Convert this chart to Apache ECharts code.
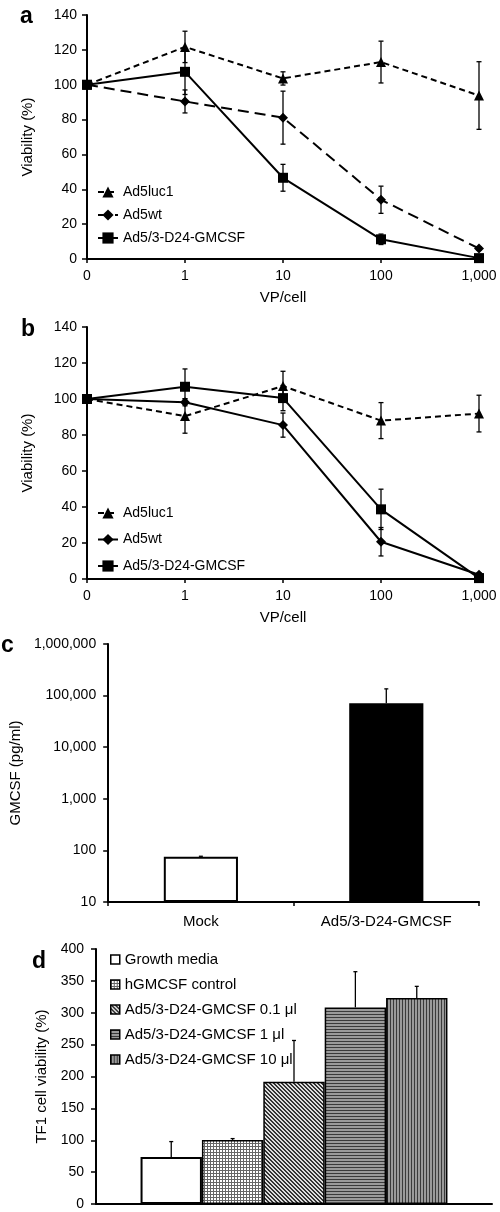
<!DOCTYPE html>
<html><head><meta charset="utf-8">
<script src="https://cdn.jsdelivr.net/npm/echarts@6/dist/echarts.min.js"></script>
<style>
html,body{margin:0;padding:0;background:#fff;}
.p{position:absolute;left:0;width:500px;}
</style></head>
<body>
<div id="pa" class="p" style="top:0;height:310px"></div>
<div id="pb" class="p" style="top:310px;height:320px"></div>
<div id="pc" class="p" style="top:630px;height:300px"></div>
<div id="pd" class="p" style="top:930px;height:282px"></div>
<script>
// ---------- data ----------
const doses = ['0', '1', '10', '100', '1,000'];
const lineNames = ['Ad5luc1', 'Ad5wt', 'Ad5/3-D24-GMCSF'];

const aLuc1 = [100, 121.7, 103.6, 113, 93.8];
const aLuc1Err = [0, 9, 3.8, 12, 19.4];
const aWt = [100, 90.4, 81.1, 34, 6];
const aWtErr = [0, 6.6, 15.2, 7.8, 1];
const aGm = [100, 107.4, 46.6, 11.3, 0.5];
const aGmErr = [0, 13, 7.7, 3, 0];

const bLuc1 = [100, 90.5, 107.2, 88, 91.9];
const bLuc1Err = [0, 9.5, 8.2, 10, 10.2];
const bWt = [100, 98.2, 85.5, 20.7, 2.4];
const bWtErr = [0, 2, 6.7, 7.9, 1];
const bGm = [100, 106.8, 100.5, 38.7, 0.5];
const bGmErr = [0, 9.9, 7, 11.2, 0];

const cGroups = ['Mock', 'Ad5/3-D24-GMCSF'];
const cValues = [75, 71300];
const cErrTop = [77, 135000];

const dNames = ['Growth media', 'hGMCSF control', 'Ad5/3-D24-GMCSF 0.1 \u03bcl', 'Ad5/3-D24-GMCSF 1 \u03bcl', 'Ad5/3-D24-GMCSF 10 \u03bcl'];
const dValues = [73.8, 100.5, 191.6, 308.4, 323];
const dErr = [24.1, 2.1, 64.9, 56, 18.4];

// ---------- helpers ----------
const FONT = "'Liberation Sans', Arial, Helvetica, sans-serif";
const BLACK = '#000';

function makePattern(kind) {
  const c = document.createElement('canvas');
  let w = 3, h = 3;
  if (kind === 'diag') { w = 4; h = 4; }
  c.width = w; c.height = h;
  const g = c.getContext('2d');
  if (kind === 'white') { g.fillStyle = '#fff'; g.fillRect(0, 0, w, h); }
  else if (kind === 'grid') {
    g.fillStyle = '#fff'; g.fillRect(0, 0, w, h);
    g.fillStyle = '#666'; g.fillRect(0, 0, w, 1); g.fillRect(0, 0, 1, h);
  } else if (kind === 'diag') {
    g.fillStyle = '#ddd'; g.fillRect(0, 0, w, h);
    g.fillStyle = '#333';
    for (let i = 0; i < 4; i++) { g.fillRect(i, i, 1, 1); g.fillRect((i + 1) % 4, i, 1, 1); }
  } else if (kind === 'hor') {
    g.fillStyle = '#9a9a9a'; g.fillRect(0, 0, w, h);
    g.fillStyle = '#3a3a3a'; g.fillRect(0, 0, w, 1);
  } else if (kind === 'ver') {
    g.fillStyle = '#9a9a9a'; g.fillRect(0, 0, w, h);
    g.fillStyle = '#3a3a3a'; g.fillRect(0, 0, 1, h);
  }
  return { image: c, repeat: 'repeat' };
}

function errRender(capW, offsetFn) {
  return function (params, api) {
    const x = api.value(0), lo = api.value(1), hi = api.value(2);
    if (!(hi > lo)) return null;
    const p1 = api.coord([x, lo]);
    const p2 = api.coord([x, hi]);
    const dx = offsetFn ? offsetFn(params, api) : 0;
    const X = p1[0] + dx;
    const st = { stroke: BLACK, lineWidth: 1.3 };
    const ch = [{ type: 'line', shape: { x1: X, y1: p1[1], x2: X, y2: p2[1] }, style: st },
                { type: 'line', shape: { x1: X - capW / 2, y1: p2[1], x2: X + capW / 2, y2: p2[1] }, style: st }];
    if (api.value(3) === 1) {
      ch.push({ type: 'line', shape: { x1: X - capW / 2, y1: p1[1], x2: X + capW / 2, y2: p1[1] }, style: st });
    }
    return { type: 'group', children: ch };
  };
}

function symErr(vals, errs) {
  return vals.map((v, i) => [i, v - errs[i], v + errs[i], 1]);
}

function axisCommon() {
  return {
    axisLine: { show: true, lineStyle: { color: BLACK, width: 2 } },
    axisTick: { show: true, lineStyle: { color: BLACK, width: 1.5 }, length: 5 },
    axisLabel: { color: BLACK, fontFamily: FONT, fontSize: 14 },
    nameTextStyle: { color: BLACK, fontFamily: FONT, fontSize: 15 },
    splitLine: { show: false }
  };
}

function letter(txt, x, y) {
  return { type: 'text', left: x, top: y, style: { text: txt, font: 'bold 23px ' + FONT, fill: BLACK } };
}

function linePanel(el, data, errs, styles, legendTop, legendGap, gridTop, gridH, lab) {
  const chart = echarts.init(document.getElementById(el), null, { renderer: 'canvas' });
  const symbols = ['triangle', 'diamond', 'rect'];
  const symSizes = [10, 10, 10];
  const series = [];
  for (let k = 0; k < 3; k++) {
    series.push({
      type: 'custom', name: 'err' + k, renderItem: errRender(5), encode: { x: 0, y: [1, 2] },
      data: symErr(data[k], errs[k]), z: 2, silent: true
    });
  }
  for (let k = 0; k < 3; k++) {
    series.push({
      type: 'line', name: lineNames[k], data: data[k], symbol: symbols[k], symbolSize: symSizes[k],
      lineStyle: { color: BLACK, width: 2, type: styles[k] }, itemStyle: { color: BLACK }, z: 3
    });
  }
  const xa = Object.assign(axisCommon(), {
    type: 'category', data: doses, boundaryGap: false, name: 'VP/cell', nameLocation: 'middle', nameGap: 31
  });
  xa.axisTick.length = 4;
  xa.axisLabel.margin = 10;
  const ya = Object.assign(axisCommon(), {
    type: 'value', min: 0, max: 140, interval: 20, name: 'Viability (%)', nameLocation: 'middle', nameGap: 52
  });
  ya.axisLabel.margin = 10;
  chart.setOption({
    animation: false,
    textStyle: { fontFamily: FONT },
    grid: { left: 87, width: 392, top: gridTop, height: gridH },
    xAxis: xa, yAxis: ya,
    legend: {
      data: lineNames, orient: 'vertical', left: 92, top: legendTop, itemGap: legendGap,
      itemWidth: 20, itemHeight: 14, textStyle: { color: BLACK, fontFamily: FONT, fontSize: 14 },
      selectedMode: false
    },
    graphic: [letter(lab[0], lab[1], lab[2])],
    series: series
  });
}

// ---------- panel a ----------
linePanel('pa', [aLuc1, aWt, aGm], [aLuc1Err, aWtErr, aGmErr], [[6, 4], [11, 6], 'solid'], 180, 9, 15, 247, ['a', 20, 5]);
// ---------- panel b ----------
linePanel('pb', [bLuc1, bWt, bGm], [bLuc1Err, bWtErr, bGmErr], [[6, 4], 'solid', 'solid'], 191, 12.5, 17, 254, ['b', 21, 8]);

// ---------- panel c ----------
(function () {
  const chart = echarts.init(document.getElementById('pc'));
  const fills = ['#fff', '#000'];
  const barData = cValues.map((v, i) => ({ value: v, itemStyle: { color: fills[i], borderColor: BLACK, borderWidth: 2 } }));
  const xa = Object.assign(axisCommon(), { type: 'category', data: cGroups, boundaryGap: true });
  xa.axisTick.length = 4;
  xa.axisLabel = { color: BLACK, fontFamily: FONT, fontSize: 15, margin: 12 };
  const ya = Object.assign(axisCommon(), {
    type: 'log', logBase: 10, min: 10, max: 1000000, startValue: 10, name: 'GMCSF (pg/ml)', nameLocation: 'middle', nameGap: 75
  });
  ya.axisLabel.formatter = v => Number(v).toLocaleString('en-US');
  ya.axisLabel.margin = 12;
  chart.setOption({
    animation: false,
    grid: { left: 96, width: 383, top: 14, height: 258 },
    xAxis: xa, yAxis: ya,
    graphic: [letter('c', 1, 4)],
    series: [
      { type: 'bar', data: barData, barWidth: '40%', clip: true, z: 2 },
      { type: 'custom', renderItem: errRender(4), encode: { x: 0, y: [1, 2] },
        data: cValues.map((v, i) => [i, v, cErrTop[i], 0]), z: 3 }
    ]
  });
})();

// ---------- panel d ----------
(function () {
  const chart = echarts.init(document.getElementById('pd'));
  const kinds = ['white', 'grid', 'diag', 'hor', 'ver'];
  const GAP = 0.225;
  const series = dNames.map((n, i) => ({
    type: 'bar', name: n, data: [dValues[i]], barGap: '0%', barCategoryGap: (GAP * 100) + '%',
    itemStyle: { color: makePattern(kinds[i]), borderColor: BLACK, borderWidth: i === 0 ? 2 : 1.5 }, z: 2
  }));
  dNames.forEach((n, i) => {
    series.push({
      type: 'custom', name: 'e' + i, z: 3, encode: { x: 0, y: [1, 2] },
      renderItem: errRender(4, (p, api) => {
        const band = api.size([1, 0])[0];
        const bw = band * (1 - GAP) / dNames.length;
        return (i - (dNames.length - 1) / 2) * bw;
      }),
      data: [[0, dValues[i], dValues[i] + dErr[i], 0]]
    });
  });
  const xa = Object.assign(axisCommon(), { type: 'category', data: [''] });
  xa.axisTick = { show: false };
  xa.axisLabel = { show: false };
  const ya = Object.assign(axisCommon(), {
    type: 'value', min: 0, max: 400, interval: 50, name: 'TF1 cell viability (%)', nameLocation: 'middle', nameGap: 47
  });
  ya.axisLabel.margin = 12;
  chart.setOption({
    animation: false,
    grid: { left: 96, width: 396, top: 19, height: 255 },
    xAxis: xa, yAxis: ya,
    legend: {
      data: dNames, orient: 'vertical', left: 105, top: 17, itemGap: 10, icon: 'rect',
      itemWidth: 9, itemHeight: 9, itemStyle: { borderColor: BLACK, borderWidth: 1.5 },
      textStyle: { color: BLACK, fontFamily: FONT, fontSize: 15 }, selectedMode: false
    },
    graphic: [letter('d', 32, 20)],
    series: series
  });
})();
</script>
</body></html>
